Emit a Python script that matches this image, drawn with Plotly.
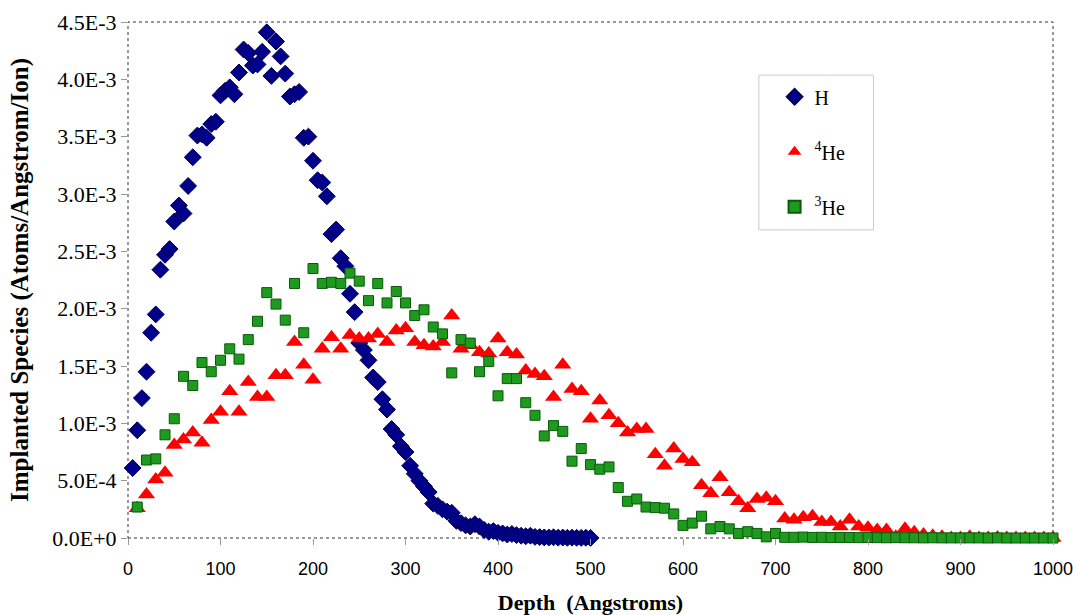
import plotly.graph_objects as go

# ---- data (values in units of 1e-3 atoms/Angstrom/ion) ----
h_depth = [5 * i for i in range(1, 101)]
h_vals = [0.61, 0.94, 1.22, 1.45, 1.79, 1.95, 2.34, 2.47, 2.52, 2.76,
          2.90, 2.83, 3.07, 3.32, 3.51, 3.52, 3.49, 3.61, 3.63, 3.86,
          3.90, 3.93, 3.87, 4.06, 4.26, 4.23, 4.12, 4.13, 4.24, 4.41,
          4.03, 4.33, 4.20, 4.05, 3.85, 3.87, 3.89, 3.49, 3.50, 3.29,
          3.12, 3.10, 2.98, 2.65, 2.69, 2.44, 2.37, 2.13, 1.97, 1.70,
          1.64, 1.55, 1.40, 1.36, 1.21, 1.12, 0.95, 0.90, 0.80, 0.75,
          0.63, 0.56, 0.50, 0.45, 0.40, 0.30, 0.28, 0.25, 0.23, 0.22,
          0.15, 0.13, 0.11, 0.10, 0.12, 0.10, 0.07, 0.055, 0.06, 0.045,
          0.04, 0.03, 0.035, 0.025, 0.02, 0.015, 0.02, 0.01, 0.008, 0.005,
          0.004, 0.006, 0.003, 0.004, 0.002, 0.003, 0.002, 0.001, 0.002, 0.001]

he_depth = [10 * i for i in range(1, 101)]
he4_vals = [0.26, 0.38, 0.51, 0.57, 0.81, 0.86, 0.92, 0.83, 1.03, 1.10,
            1.28, 1.10, 1.36, 1.23, 1.23, 1.42, 1.42, 1.71, 1.51, 1.38,
            1.65, 1.75, 1.65, 1.77, 1.74, 1.74, 1.78, 1.71, 1.81, 1.83,
            1.71, 1.68, 1.67, 1.71, 1.94, 1.65, 1.68, 1.62, 1.61, 1.74,
            1.62, 1.60, 1.46, 1.43, 1.41, 1.23, 1.51, 1.30, 1.28, 1.04,
            1.20, 1.07, 1.00, 0.92, 0.95, 0.95, 0.73, 0.63, 0.78, 0.69,
            0.66, 0.46, 0.39, 0.53, 0.40, 0.32, 0.26, 0.34, 0.35, 0.32,
            0.17, 0.16, 0.18, 0.19, 0.14, 0.14, 0.10, 0.16, 0.10, 0.09,
            0.07, 0.07, 0.01, 0.08, 0.05, 0.03, 0.02, 0.01, 0.0, 0.0,
            0.01, 0.0, 0.0, 0.005, 0.0, 0.0, 0.0, 0.0, 0.0, 0.0]
he3_vals = [0.27, 0.68, 0.69, 0.90, 1.04, 1.41, 1.33, 1.53, 1.45, 1.55,
            1.65, 1.56, 1.73, 1.89, 2.14, 2.04, 1.90, 2.22, 1.79, 2.35,
            2.22, 2.23, 2.22, 2.31, 2.24, 2.07, 2.22, 2.05, 2.15, 2.05,
            1.94, 1.99, 1.84, 1.78, 1.44, 1.73, 1.70, 1.45, 1.54, 1.24,
            1.39, 1.39, 1.18, 1.07, 0.89, 0.98, 0.93, 0.67, 0.78, 0.64,
            0.60, 0.62, 0.44, 0.32, 0.34, 0.27, 0.265, 0.26, 0.21, 0.11,
            0.13, 0.19, 0.08, 0.10, 0.08, 0.04, 0.055, 0.04, 0.01, 0.04,
            0.006, 0.006, 0.008, 0.005, 0.006, 0.004, 0.005, 0.004, 0.003, 0.004,
            0.003, 0.002, 0.003, 0.002, 0.002, 0.001, 0.002, 0.001, 0.001, 0.001,
            0.001, 0.001, 0.0, 0.001, 0.0, 0.0, 0.0, 0.0, 0.0, 0.0]

x_ticks = [0, 100, 200, 300, 400, 500, 600, 700, 800, 900, 1000]
x_ticktext = ["0", "100", "200", "300", "400", "500", "600", "700", "800", "900", "1000"]
y_ticks = [0.0, 0.5e-3, 1.0e-3, 1.5e-3, 2.0e-3, 2.5e-3, 3.0e-3, 3.5e-3, 4.0e-3, 4.5e-3]
y_ticktext = ["0.0E+0", "5.0E-4", "1.0E-3", "1.5E-3", "2.0E-3",
              "2.5E-3", "3.0E-3", "3.5E-3", "4.0E-3", "4.5E-3"]

serif = "Liberation Serif, Times New Roman, serif"

fig = go.Figure()
fig.add_trace(go.Scatter(
    x=h_depth, y=[v * 1e-3 for v in h_vals], mode="markers", name="H",
    legendgroup="a", cliponaxis=False,
    marker=dict(symbol="diamond", size=13, color="#00008B",
                line=dict(color="#000050", width=1))))
fig.add_trace(go.Scatter(
    x=he_depth, y=[v * 1e-3 for v in he4_vals], mode="markers", name="<sup>4</sup>He",
    legendgroup="b", cliponaxis=False,
    marker=dict(symbol="triangle-up", size=15, color="#FF0000",
                line=dict(width=0))))
fig.add_trace(go.Scatter(
    x=he_depth, y=[v * 1e-3 for v in he3_vals], mode="markers", name="<sup>3</sup>He",
    legendgroup="c", cliponaxis=False,
    marker=dict(symbol="square", size=10, color="#1E9A1E",
                line=dict(color="#0A5A0A", width=1))))

# dotted plot-area border
fig.add_shape(type="rect", xref="paper", yref="paper", x0=0, x1=1, y0=0, y1=1,
              line=dict(color="#333333", width=1, dash="dot"), layer="below")
# legend frame
fig.add_shape(type="rect", xref="paper", yref="paper", x0=0.682, x1=0.806,
              y0=0.597, y1=0.897, line=dict(color="#CCCCCC", width=1),
              fillcolor="white", layer="below")

fig.update_layout(
    width=1073, height=615,
    margin=dict(l=128, r=20, t=22, b=77, autoexpand=False),
    paper_bgcolor="white", plot_bgcolor="white",
    showlegend=True,
    legend=dict(x=0.699, y=0.893, xanchor="left", yanchor="top",
                borderwidth=0, bgcolor="rgba(0,0,0,0)",
                font=dict(family=serif, size=20, color="black"),
                tracegroupgap=26, itemsizing="constant"),
    xaxis=dict(range=[0, 1000], tickvals=x_ticks, ticktext=x_ticktext,
               showgrid=False, zeroline=False, ticklabeloverflow="allow",
               automargin=False,
               showline=False, ticks="outside", ticklen=6, tickcolor="#999999",
               ticklabelstandoff=8,
               tickfont=dict(family="Liberation Sans, Arial, sans-serif", size=18, color="black"),
               title=dict(text="<b>Depth  (Angstroms)</b>", standoff=22,
                          font=dict(family=serif, size=22, color="black"))),
    yaxis=dict(range=[0, 4.5e-3], tickvals=y_ticks, ticktext=y_ticktext,
               showgrid=False, zeroline=False, showline=False, automargin=False,
               ticks="outside", ticklen=6, tickcolor="#999999",
               tickfont=dict(family=serif, size=22, color="black"),
               title=dict(text="<b>Implanted Species (Atoms/Angstrom/Ion)</b>", standoff=16,
                          font=dict(family=serif, size=25, color="black"))),
)

fig.write_html("out.html")
